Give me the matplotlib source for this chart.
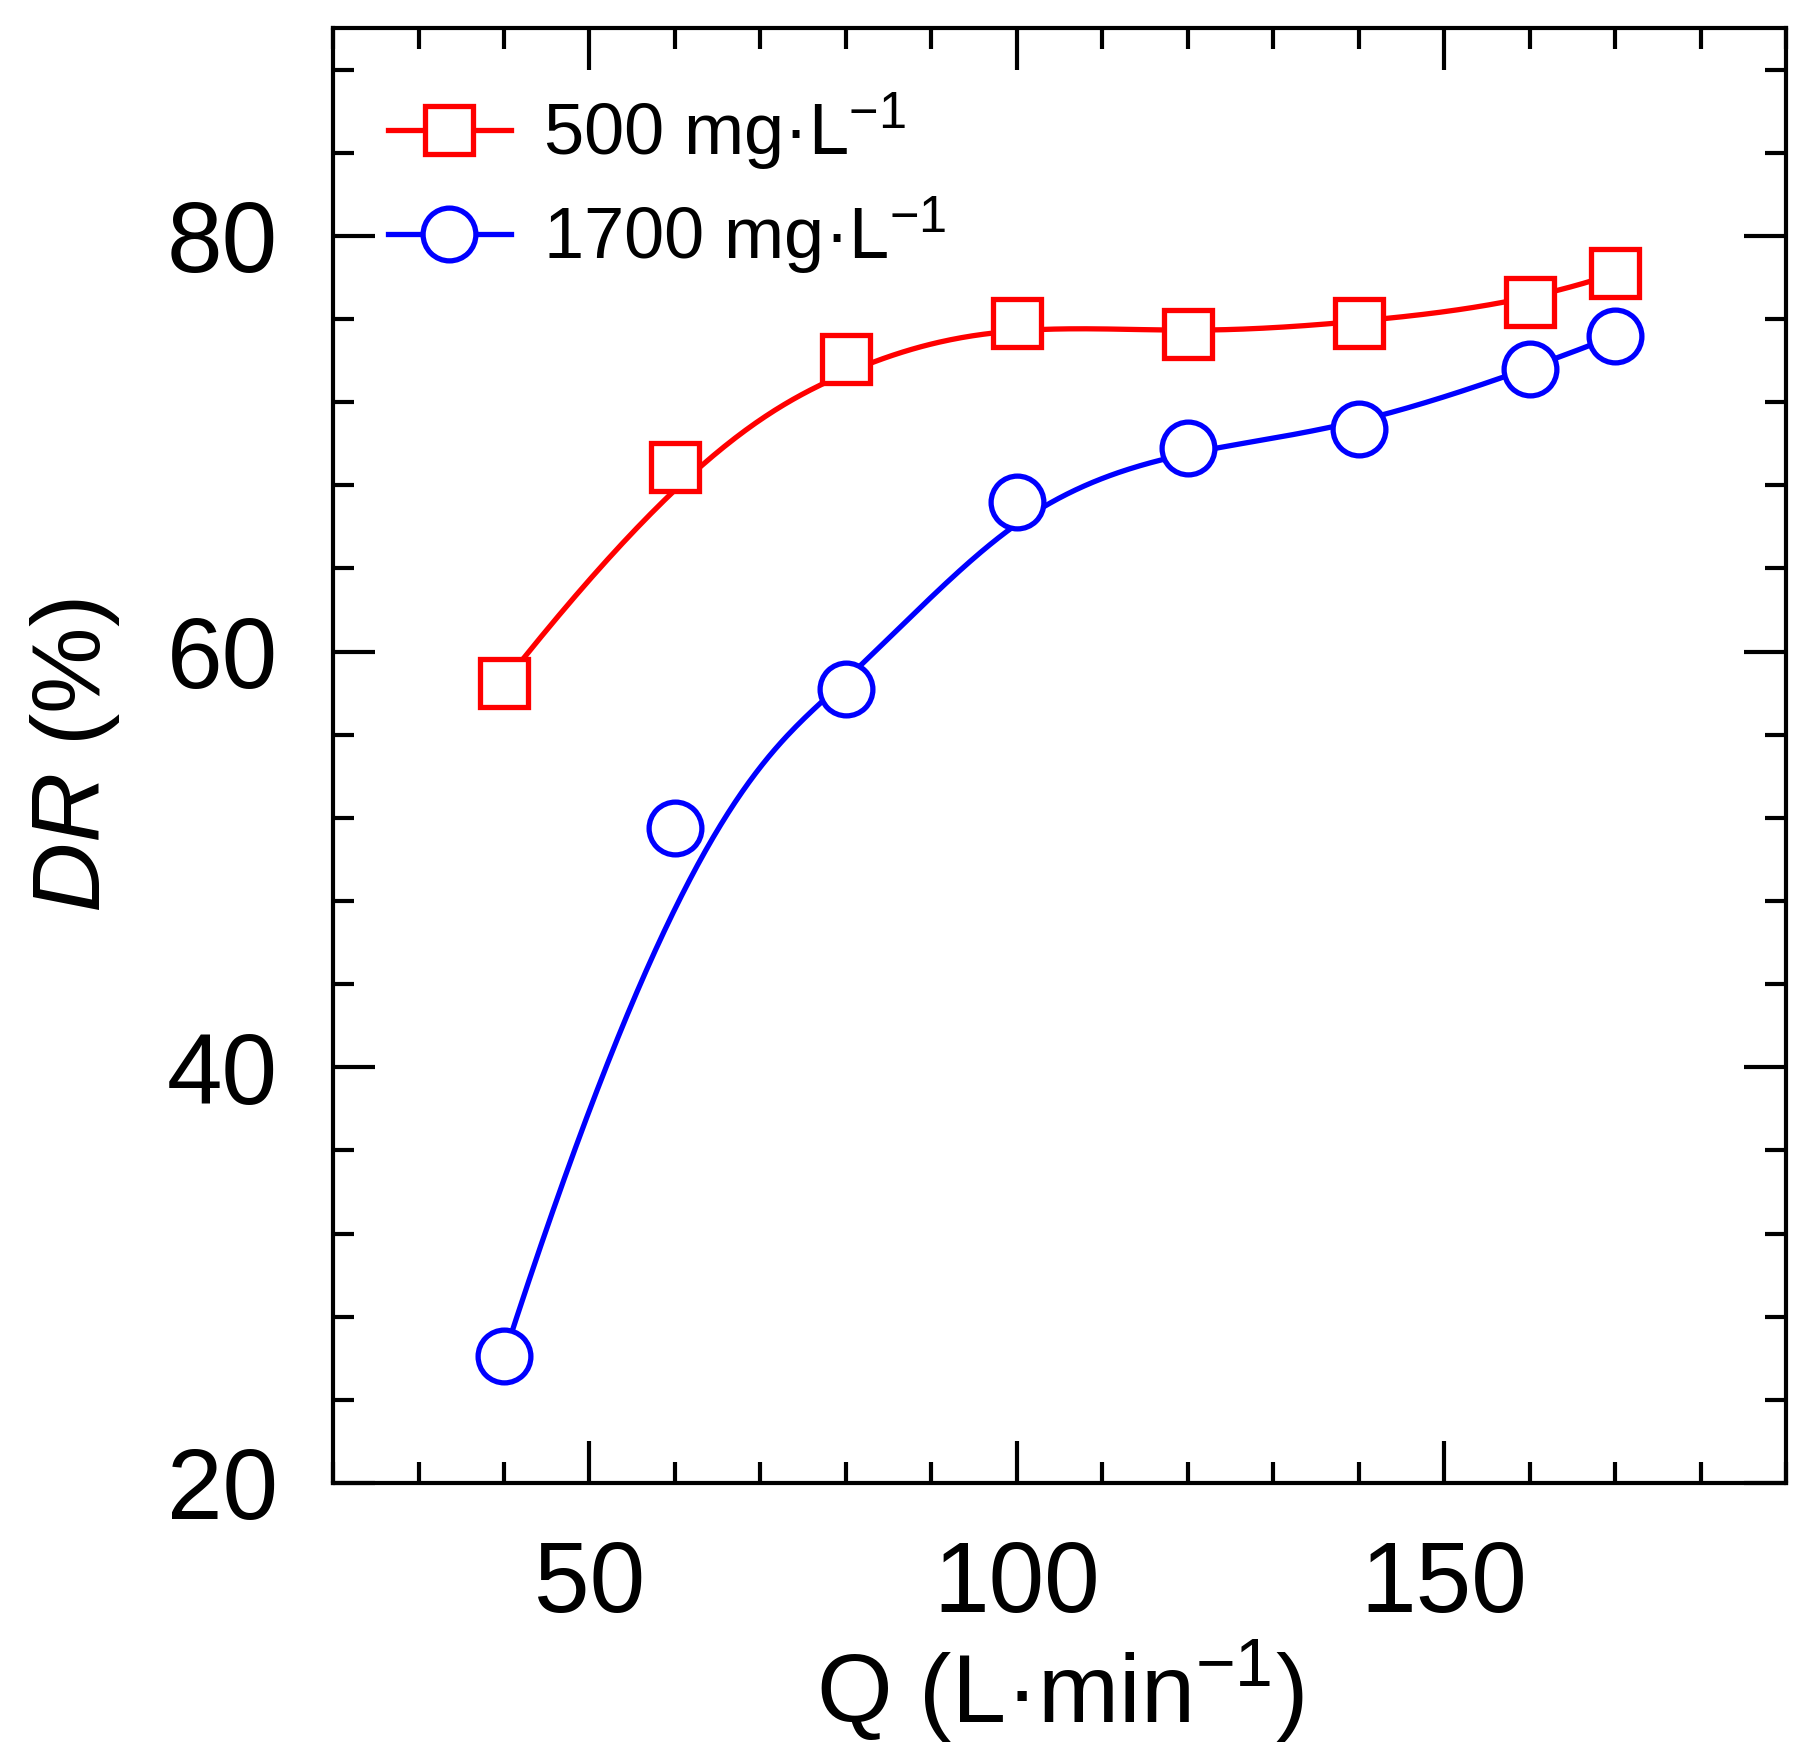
import numpy as np
import matplotlib.pyplot as plt
from matplotlib.ticker import MultipleLocator

plt.rcParams['font.family'] = ['Liberation Sans', 'DejaVu Sans']
plt.rcParams['mathtext.fontset'] = 'custom'
plt.rcParams['mathtext.rm'] = 'Liberation Sans'
plt.rcParams['mathtext.it'] = 'Liberation Sans:italic'

# Daten
flow = [40, 60, 80, 100, 120, 140, 160, 170]
dr_500 = [58.5, 68.9, 74.1, 75.8, 75.3, 75.8, 76.8, 78.2]
dr_1700 = [26.1, 51.5, 58.2, 67.2, 69.8, 70.7, 73.6, 75.2]
labels = ['500 mg·L$^{-1}$', '1700 mg·L$^{-1}$']


def bspline(xs, ys, k=3, num=400):
    # B-Spline mit den Messpunkten als Kontrollpunkte (wie Origin)
    pts = np.column_stack([xs, ys]).astype(float)
    n = len(pts)
    knots = np.concatenate([np.zeros(k), np.arange(n - k + 1), np.full(k, n - k)]).astype(float)
    t = np.linspace(0, n - k, num)
    t[-1] -= 1e-9
    B = np.zeros((num, len(knots) - 1))
    for i in range(len(knots) - 1):
        B[:, i] = (knots[i] <= t) & (t < knots[i + 1])
    for d in range(1, k + 1):
        Bn = np.zeros((num, len(knots) - 1 - d))
        for i in range(len(knots) - 1 - d):
            a = knots[i + d] - knots[i]
            b = knots[i + d + 1] - knots[i + 1]
            term = np.zeros(num)
            if a > 0:
                term += (t - knots[i]) / a * B[:, i]
            if b > 0:
                term += (knots[i + d + 1] - t) / b * B[:, i + 1]
            Bn[:, i] = term
        B = Bn
    curve = B @ pts
    return curve[:, 0], curve[:, 1]


fig = plt.figure(figsize=(18.17, 17.55), dpi=100)
ax = fig.add_axes([0.1833, 0.155, 0.7997, 0.829])

styles = [dict(color='#ff0000', marker='s', ms=34), dict(color='#0000ff', marker='o', ms=38)]
handles = []
for ys, st, lab in zip([dr_500, dr_1700], styles, labels):
    cx, cy = bspline(flow, ys)
    ax.plot(cx, cy, color=st['color'], lw=3.8, zorder=2)
    ax.plot(flow, ys, linestyle='none', marker=st['marker'], ms=st['ms'],
            mfc='white', mec=st['color'], mew=3.8, zorder=3)
    h, = ax.plot([], [], color=st['color'], lw=3.8, marker=st['marker'], ms=st['ms'],
                 mfc='white', mec=st['color'], mew=3.8, label=lab)
    handles.append(h)

ax.set_xlim(20, 190)
ax.set_ylim(20, 90)
ax.xaxis.set_major_locator(MultipleLocator(50))
ax.xaxis.set_minor_locator(MultipleLocator(10))
ax.yaxis.set_major_locator(MultipleLocator(20))
ax.yaxis.set_minor_locator(MultipleLocator(4))
ax.tick_params(which='both', direction='in', top=True, right=True, width=3)
ax.tick_params(which='major', length=30, labelsize=72, pad=40)
ax.tick_params(which='minor', length=15)
for sp in ax.spines.values():
    sp.set_linewidth(3)

ax.set_xlabel('Q (L·min$^{-1}$)', fontsize=70, labelpad=4)
ax.set_ylabel('$\\it{DR}$ (%)', fontsize=70, labelpad=32)

ax.legend(handles=handles, loc='upper left', frameon=False, fontsize=52,
          handlelength=1.7, handletextpad=0.45, labelspacing=0.3,
          borderaxespad=0.4, bbox_to_anchor=(-0.002, 0.997))

fig.savefig('out.png', dpi=100)
